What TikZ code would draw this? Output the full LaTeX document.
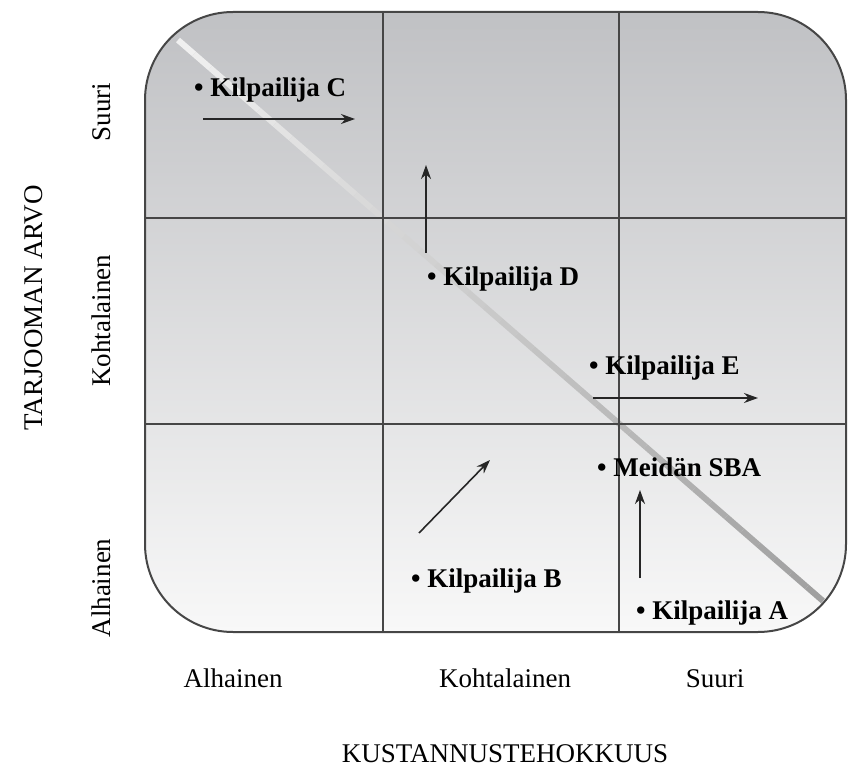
\documentclass[tikz,border=0pt]{standalone}
\usepackage{fontspec}
\setmainfont{Liberation Serif}
\usetikzlibrary{arrows.meta}
\definecolor{laatikkoyla}{RGB}{192,193,196}
\definecolor{laatikkoala}{RGB}{248,248,248}
\definecolor{viiva}{RGB}{70,70,70}

\begin{document}
\begin{tikzpicture}[x=1pt,y=-1pt,
  taso/.style={font=\fontsize{27}{30}\selectfont, inner sep=0pt},
  kilpailija/.style={font=\fontsize{27}{30}\selectfont\bfseries, inner sep=0pt, anchor=base west},
  siirto/.style={-{Stealth[length=14pt,width=10pt]}, line width=1.6pt, black!85}]
\useasboundingbox (0,0) rectangle (848,767);

\shade[top color=laatikkoyla,bottom color=laatikkoala,rounded corners=88pt] (145,12) rectangle (846,632);

% diagonaali
\foreach \i in {0,...,39}{
  \pgfmathsetmacro{\sa}{\i/40}
  \pgfmathsetmacro{\sb}{(\i+1)/40}
  \pgfmathsetmacro{\savy}{6+32*\sa}
  \draw[line width=6pt, color=black!\savy] ({178+645*\sa},{40+561*\sa}) -- ({178+645*\sb},{40+561*\sb});
}

\draw[viiva, line width=1.3pt] (383,12) -- (383,632);
\draw[viiva, line width=1.3pt] (619,12) -- (619,632);
\draw[viiva, line width=1.3pt] (145,218) -- (846,218);
\draw[viiva, line width=1.3pt] (145,424) -- (846,424);
\draw[viiva, line width=2pt, rounded corners=88pt] (145,12) rectangle (846,632);

\node[taso, anchor=base] (xmatala) at (233,687) {Alhainen};
\node[taso, anchor=base] (xkeski) at (505,687) {Kohtalainen};
\node[taso, anchor=base] (xsuuri) at (715,687) {Suuri};
\node[taso, anchor=base] (xotsikko) at (505,762) {KUSTANNUSTEHOKKUUS};

\node[taso, rotate=90, anchor=base] (ysuuri) at (110,112) {Suuri};
\node[taso, rotate=90, anchor=base] (ykeski) at (110,321) {Kohtalainen};
\node[taso, rotate=90, anchor=base] (ymatala) at (110,588) {Alhainen};
\node[taso, rotate=90, anchor=base] (yotsikko) at (42,308) {TARJOOMAN ARVO};

\node[kilpailija] (kilpC) at (194,97) {• Kilpailija C};
\node[kilpailija] (kilpD) at (427,285) {• Kilpailija D};
\node[kilpailija] (kilpE) at (589,374) {• Kilpailija E};
\node[kilpailija] (sba) at (597,476) {• Meidän SBA};
\node[kilpailija] (kilpA) at (636,619) {• Kilpailija A};
\node[kilpailija] (kilpB) at (411,587) {• Kilpailija B};

\coordinate (c0) at (203,119);
\coordinate (c1) at (355,119);
\coordinate (d0) at (426,253);
\coordinate (d1) at (426,165);
\coordinate (e0) at (593,398);
\coordinate (e1) at (758,398);
\coordinate (a0) at (640,578);
\coordinate (a1) at (640,490);
\coordinate (b0) at (419,533);
\coordinate (b1) at (490,460);
\draw[siirto] (c0) -- (c1);
\draw[siirto] (d0) -- (d1);
\draw[siirto] (e0) -- (e1);
\draw[siirto] (a0) -- (a1);
\draw[siirto] (b0) -- (b1);
\end{tikzpicture}
\end{document}
